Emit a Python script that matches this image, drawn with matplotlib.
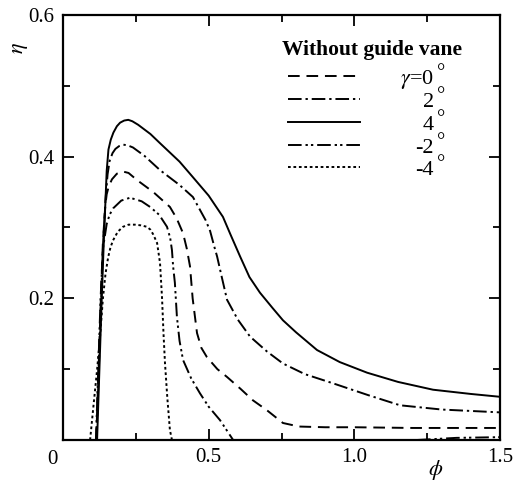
import matplotlib
matplotlib.use("Agg")
import matplotlib.pyplot as plt
from matplotlib.ticker import MultipleLocator, FixedLocator

# ---- data ----
phi_4 = [0.117, 0.125, 0.133, 0.140, 0.146, 0.150, 0.156, 0.164, 0.173, 0.185, 0.196, 0.210, 0.224, 0.238,
         0.258, 0.30, 0.333, 0.40, 0.446, 0.50, 0.549, 0.575, 0.608, 0.64, 0.676, 0.72, 0.755, 0.80,
         0.872, 0.95, 1.044, 1.15, 1.27, 1.40, 1.5]
eta_4 = [0.0, 0.1, 0.2, 0.28, 0.34, 0.38, 0.41, 0.424, 0.434, 0.443, 0.448, 0.451, 0.452, 0.450,
         0.445, 0.432, 0.419, 0.393, 0.371, 0.345, 0.315, 0.29, 0.259, 0.23, 0.208, 0.186, 0.169, 0.152,
         0.127, 0.11, 0.095, 0.082, 0.071, 0.065, 0.061]

phi_2 = [0.115, 0.123, 0.131, 0.138, 0.146, 0.153, 0.160, 0.170, 0.18, 0.193, 0.206, 0.222, 0.24, 0.28,
         0.333, 0.40, 0.446, 0.47, 0.49, 0.505, 0.52, 0.529, 0.545, 0.563, 0.60, 0.642, 0.70, 0.755,
         0.83, 0.927, 1.05, 1.157, 1.3, 1.5]
eta_2 = [0.0, 0.1, 0.2, 0.28, 0.34, 0.375, 0.394, 0.405, 0.411, 0.415, 0.417, 0.416, 0.413, 0.401,
         0.381, 0.36, 0.343, 0.325, 0.31, 0.295, 0.272, 0.259, 0.23, 0.198, 0.17, 0.146, 0.125, 0.108,
         0.093, 0.08, 0.063, 0.049, 0.043, 0.039]

phi_0 = [0.114, 0.122, 0.130, 0.137, 0.145, 0.150, 0.157, 0.168, 0.185, 0.206, 0.225, 0.254, 0.31, 0.367,
         0.39, 0.412, 0.425, 0.436, 0.445, 0.46, 0.475, 0.494, 0.53, 0.563, 0.61, 0.652, 0.70, 0.755,
         0.81, 0.9, 1.0, 1.2, 1.5]
eta_0 = [0.0, 0.1, 0.2, 0.28, 0.33, 0.347, 0.358, 0.368, 0.376, 0.379, 0.377, 0.367, 0.35, 0.329,
         0.313, 0.292, 0.27, 0.245, 0.2, 0.151, 0.13, 0.117, 0.1, 0.089, 0.072, 0.056, 0.042, 0.024,
         0.019, 0.018, 0.018, 0.017, 0.017]

phi_m2 = [0.113, 0.121, 0.129, 0.137, 0.150, 0.160, 0.172, 0.20, 0.23, 0.27, 0.299, 0.33, 0.357, 0.368,
          0.374, 0.378, 0.384, 0.391, 0.40, 0.412, 0.44, 0.47, 0.50, 0.539, 0.584]
eta_m2 = [0.0, 0.1, 0.2, 0.27, 0.305, 0.318, 0.327, 0.338, 0.342, 0.337, 0.329, 0.318, 0.301, 0.285,
          0.268, 0.245, 0.222, 0.174, 0.14, 0.113, 0.087, 0.066, 0.047, 0.028, 0.0]
phi_m2_tail = [1.215, 1.35, 1.5]
eta_m2_tail = [0.0, 0.003, 0.004]

phi_m4 = [0.093, 0.105, 0.117, 0.128, 0.137, 0.146, 0.155, 0.163, 0.172, 0.188, 0.206, 0.225, 0.247, 0.268,
          0.288, 0.30, 0.31, 0.323, 0.333, 0.34, 0.345, 0.35, 0.358, 0.367, 0.374]
eta_m4 = [0.0, 0.05, 0.099, 0.15, 0.2, 0.235, 0.258, 0.272, 0.282, 0.294, 0.301, 0.304, 0.304, 0.303,
          0.301, 0.297, 0.29, 0.278, 0.25, 0.2, 0.15, 0.109, 0.06, 0.014, 0.0]

legend_title = "Without guide vane"
legend_labels = ["0", "2", "4", "-2", "-4"]
x_ticks = [0.5, 1.0, 1.5]
x_ticklabels = ["0.5", "1.0", "1.5"]
y_ticks = [0.2, 0.4, 0.6]
y_ticklabels = ["0.2", "0.4", "0.6"]

plt.rcParams['font.family'] = ['Liberation Serif', 'DejaVu Serif']
plt.rcParams['mathtext.fontset'] = 'stix'

fig = plt.figure(figsize=(5.13, 4.83), dpi=100)
ax = fig.add_axes([63/513, 43/483, 437/513, 425/483])

lw = 1.4
styles = {
    "0": dict(dashes=(6, 3.5)),
    "2": dict(dashes=(7, 2, 1.2, 2)),
    "4": dict(linestyle='-'),
    "-2": dict(dashes=(7, 2, 1.2, 1.6, 1.2, 2)),
    "-4": dict(dashes=(1.4, 1.4)),
}
series = {"0": (phi_0, eta_0), "2": (phi_2, eta_2), "4": (phi_4, eta_4),
          "-2": (phi_m2, eta_m2), "-4": (phi_m4, eta_m4)}
for key, (px, py) in series.items():
    ax.plot(px, py, color='black', lw=lw, **styles[key])
ax.plot(phi_m2_tail, eta_m2_tail, color='black', lw=lw, **styles["-2"])

ax.set_xlim(0, 1.5)
ax.set_ylim(0, 0.6)
ax.xaxis.set_major_locator(FixedLocator([0] + x_ticks))
ax.yaxis.set_major_locator(FixedLocator([0] + y_ticks))
ax.set_xticklabels([""] + x_ticklabels)
ax.set_yticklabels([""] + y_ticklabels)
ax.xaxis.set_minor_locator(MultipleLocator(0.25))
ax.yaxis.set_minor_locator(MultipleLocator(0.1))
ax.tick_params(which='both', direction='in', top=True, right=True, width=1.3, labelsize=15, pad=6)
ax.tick_params(which='major', length=8)
ax.tick_params(which='minor', length=5)
for s in ax.spines.values():
    s.set_linewidth(1.6)

fig.text(52/513, 1 - 460/483, "0", fontsize=15, ha='center', va='center')
fig.text(20/513, 1 - 48/483, r"$\eta$", fontsize=16, rotation=90, ha='center', va='center')
fig.text(436/513, 1 - 470/483, r"$\phi$", fontsize=16, ha='center', va='center')

# legend (manual, like the reference)
def fx(px):
    return (px - 63) / 437
def fy(py):
    return (440 - py) / 425

ax.text(fx(282), fy(55), legend_title, fontsize=15.5, fontweight='bold', ha='left', va='baseline',
        transform=ax.transAxes)
leg_y = [76, 99, 122, 145, 167]
for key, y in zip(legend_labels, leg_y):
    ax.plot([fx(288), fx(360)], [fy(y), fy(y)], color='black', lw=lw, transform=ax.transAxes,
            clip_on=False, **styles[key])
    lab = (r"$\gamma$=" + key) if key == "0" else key
    ax.text(fx(434), fy(y + 8), lab, fontsize=16, ha='right', va='baseline', transform=ax.transAxes)
    ax.text(fx(437), fy(y + 2), "\u00b0", fontsize=15, ha='left', va='baseline', transform=ax.transAxes)

fig.savefig("out.png", dpi=100)
